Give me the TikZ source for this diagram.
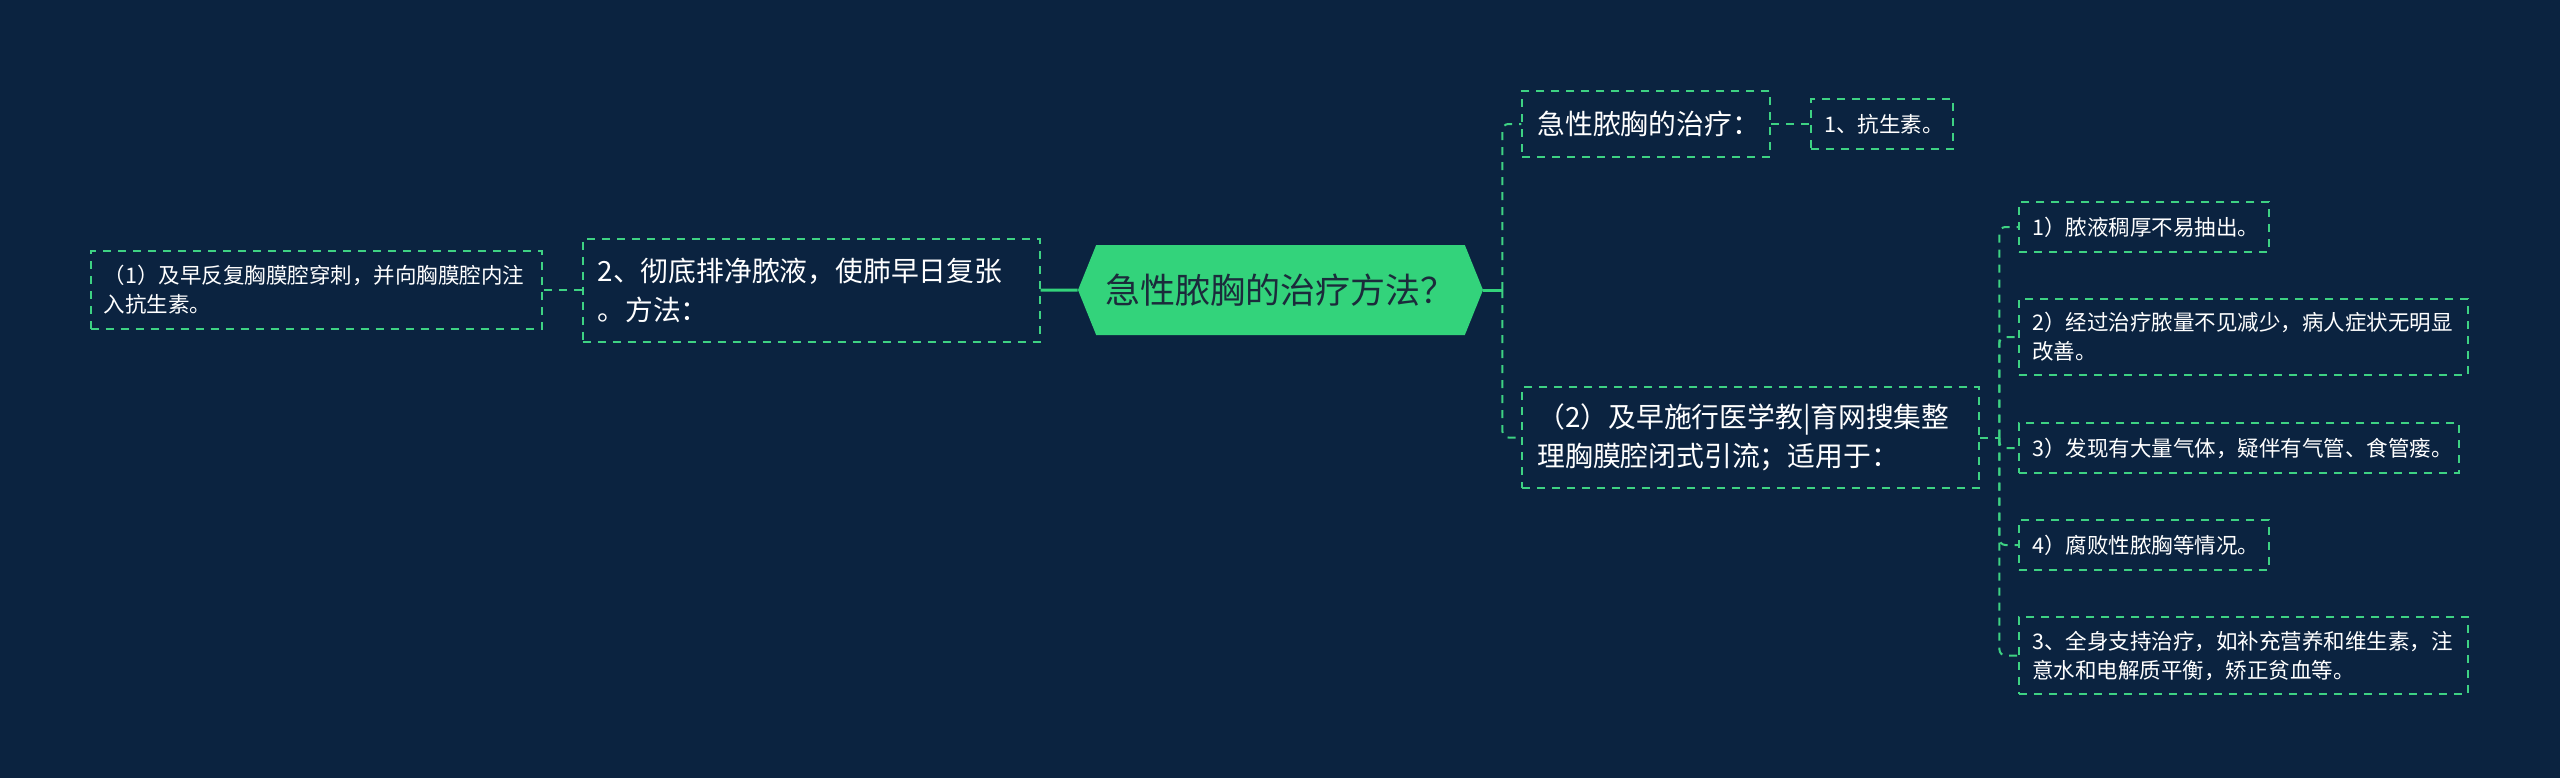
\documentclass[tikz,border=0pt]{standalone}
\usepackage{fontspec}
\setmainfont{Noto Sans CJK SC}
\usetikzlibrary{positioning, shapes.symbols}
\definecolor{nightblue}{HTML}{0B2340}
\definecolor{mintgreen}{HTML}{33D37B}
\definecolor{linegreen}{HTML}{3ED283}
\definecolor{inkdark}{HTML}{1B2B3B}

\begin{document}
\begin{tikzpicture}[node distance=19.5pt]
\tikzstyle{topic} = [signal, signal to=west and east, signal pointer angle=136, minimum width=202.5pt, minimum height=45pt, inner sep=0pt, fill=mintgreen, text=inkdark, font=\fontsize{17.5}{21}\selectfont]
\tikzstyle{branch} = [rectangle, draw=linegreen, dash pattern=on 4pt off 3.5pt, line width=1pt, text=white, align=left, inner xsep=7.5pt, font=\fontsize{13.9}{19.5}\selectfont]
\tikzstyle{leaf} = [branch, inner xsep=6.5pt, font=\fontsize{10.75}{14.5}\selectfont]
\tikzstyle{link} = [draw=linegreen, line width=1pt, dash pattern=on 4pt off 3.5pt, rounded corners=3pt]
\tikzstyle{trunk} = [draw=mintgreen, line width=1.5pt]

% Background
\fill[nightblue] (0,0) rectangle (1280pt,-389pt);

% Central topic
\node (root) [topic] at (640.25pt,-145pt) {急性脓胸的治疗方法？};

% Left branch
\node (l2) [branch, left=18.5pt of root, text width=213.5pt, minimum height=51.5pt] {2、彻底排净脓液，使肺早日复张\\。方法：};
\node (fl) [leaf, left=of l2, text width=212.5pt, minimum height=39pt] {（1）及早反复胸膜腔穿刺，并向胸膜腔内注\\入抗生素。};

% Right branches
\node (r1) [branch, right=19pt of root, yshift=83pt, text width=109pt, minimum height=33pt] {急性脓胸的治疗：};
\node (k1) [leaf, right=of r1, text width=58pt, minimum height=25pt] {1、抗生素。};
\node (r2) [branch, right=19pt of root, yshift=-73.75pt, text width=213.5pt, minimum height=50.5pt] {（2）及早施行医学教|育网搜集整\\理胸膜腔闭式引流；适用于：};

% Indications under (2)
\node (c1) [leaf, right=19pt of r2, yshift=105.25pt, text width=112pt, minimum height=25pt] {1）脓液稠厚不易抽出。};
\node (c2) [leaf, below=22.5pt of c1.south west, anchor=north west, text width=211.5pt, minimum height=38pt] {2）经过治疗脓量不见减少，病人症状无明显\\改善。};
\node (c3) [leaf, below=23pt of c2.south west, anchor=north west, text width=207pt, minimum height=25pt] {3）发现有大量气体，疑伴有气管、食管瘘。};
\node (c4) [leaf, below=22.5pt of c3.south west, anchor=north west, text width=112pt, minimum height=25pt] {4）腐败性脓胸等情况。};
\node (c5) [leaf, below=22.5pt of c4.south west, anchor=north west, text width=211.5pt, minimum height=38.5pt] {3、全身支持治疗，如补充营养和维生素，注\\意水和电解质平衡，矫正贫血等。};

% Connectors
\draw[trunk] (root) -- (l2);
\draw[link] (l2) -- (fl);
\draw[trunk] (root.east) -- ++(9.5pt,0) coordinate (rfork);
\draw[link] (rfork) |- (r1);
\draw[link] (rfork) |- (r2);
\draw[link] (r1) -- (k1);
\draw[link] (r2.east) -- ++(9.5pt,0) coordinate (cfork);
\foreach \kid in {c1, c2, c3, c4, c5} {
    \draw[link] (cfork) |- (\kid);
}

\end{tikzpicture}
\end{document}
